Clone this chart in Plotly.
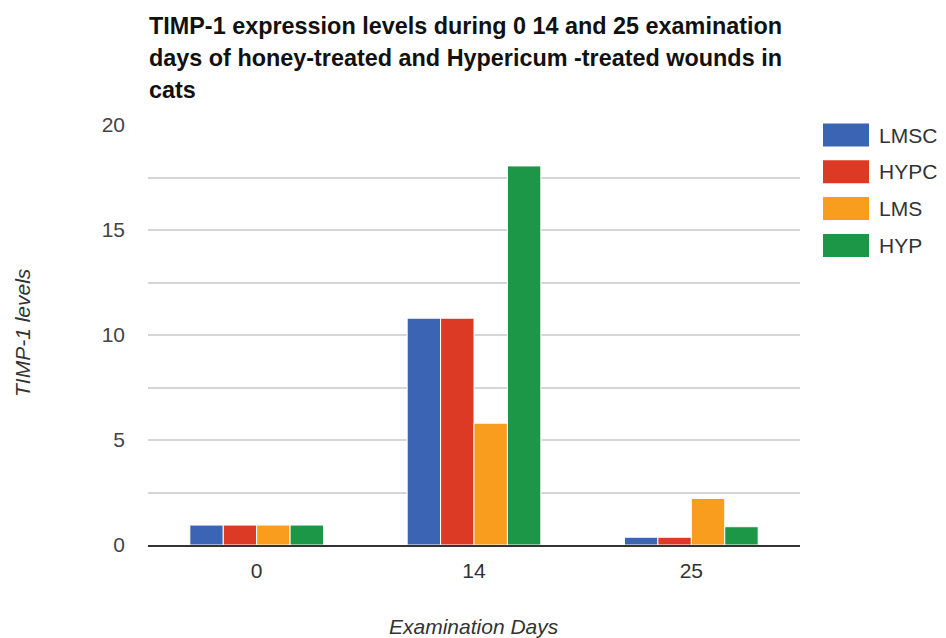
import plotly.graph_objects as go

# Data
days = ["0", "14", "25"]
series_names = ["LMSC", "HYPC", "LMS", "HYP"]
lmsc = [0.95, 10.8, 0.37]
hypc = [0.95, 10.8, 0.37]
lms = [0.95, 5.8, 2.22]
hyp = [0.95, 18.05, 0.87]
y_ticks = [0, 5, 10, 15, 20]
title_lines = [
    "TIMP-1 expression levels during 0 14 and 25 examination",
    "days of honey-treated and Hypericum -treated wounds in",
    "cats",
]

series_values = [lmsc, hypc, lms, hyp]
colors = ["#3c64b4", "#dc3a24", "#f99d1e", "#1b9747"]

W, H = 946, 638
M_L, M_R, M_T, M_B = 148, 146, 125, 93
PW, PH = W - M_L - M_R, H - M_T - M_B

FONT = "Liberation Sans, Arial, sans-serif"

fig = go.Figure()
for name, vals, col in zip(series_names, series_values, colors):
    fig.add_trace(go.Bar(
        x=days, y=vals, name=name,
        marker=dict(color=col, line=dict(color="white", width=1)),
        showlegend=False,
    ))


def px_x(x):
    return (x - M_L) / PW


def px_y(y):
    return (H - M_B - y) / PH


shapes = []
annotations = []

# Title, one annotation per line
for i, line in enumerate(title_lines):
    annotations.append(dict(
        text=f"<b>{line}</b>", xref="paper", yref="paper",
        x=px_x(147), y=px_y(26 + i * 32), xanchor="left", yanchor="middle",
        showarrow=False, font=dict(family=FONT, size=23.4, color="#111111"),
    ))

# Legend drawn as swatches + labels on the right side
row0, row_step = 135, 36.8
for i, (name, col) in enumerate(zip(series_names, colors)):
    cy = row0 + i * row_step
    shapes.append(dict(
        type="rect", xref="paper", yref="paper",
        x0=px_x(823), x1=px_x(869), y0=px_y(cy - 11.5), y1=px_y(cy + 11.5),
        fillcolor=col, line=dict(width=0),
    ))
    annotations.append(dict(
        text=name, xref="paper", yref="paper",
        x=px_x(877), y=px_y(cy), xanchor="left", yanchor="middle",
        showarrow=False, font=dict(family=FONT, size=21, color="#333333"),
    ))

# Axis titles
annotations.append(dict(
    text="<i>Examination Days</i>", xref="paper", yref="paper",
    x=0.5, y=px_y(626), xanchor="center", yanchor="middle",
    showarrow=False, font=dict(family=FONT, size=21, color="#333333"),
))
annotations.append(dict(
    text="<i>TIMP-1 levels</i>", xref="paper", yref="paper",
    x=px_x(22), y=px_y(333), xanchor="center", yanchor="middle",
    textangle=-90, showarrow=False,
    font=dict(family=FONT, size=21, color="#333333"),
))

fig.update_layout(
    width=W, height=H,
    margin=dict(l=M_L, r=M_R, t=M_T, b=M_B, pad=0),
    paper_bgcolor="white", plot_bgcolor="white",
    barmode="group", bargap=0.385, bargroupgap=0.0,
    shapes=shapes,
    annotations=annotations,
    xaxis=dict(
        showline=True, linecolor="#333333", linewidth=1.5,
        ticks="", ticklabelstandoff=6,
        tickfont=dict(family=FONT, size=21, color="#333333"),
        showgrid=False,
    ),
    yaxis=dict(
        range=[0, 20], tickvals=y_ticks, ticks="",
        ticklabelstandoff=22,
        showgrid=True, gridcolor="#d6d6d6", gridwidth=1.5,
        minor=dict(dtick=2.5, showgrid=True, gridcolor="#d6d6d6", gridwidth=1.5),
        zeroline=False, showline=False,
        tickfont=dict(family=FONT, size=21, color="#444444"),
    ),
)

fig.write_html("out.html")
